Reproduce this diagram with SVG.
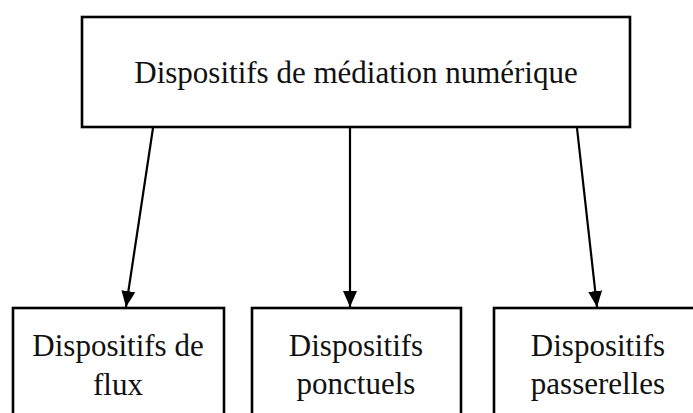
<svg xmlns="http://www.w3.org/2000/svg" width="693" height="413" viewBox="0 0 693 413">
<style>
.box{fill:#fff;stroke:#000;stroke-width:2.6}
.t{font-family:"Liberation Serif","Times New Roman",serif;font-size:31px;fill:#111;text-anchor:middle}
.c{stroke:#000;stroke-width:2.2;fill:none;marker-end:url(#ah)}
</style>
<defs>
<marker id="ah" markerUnits="userSpaceOnUse" markerWidth="16" markerHeight="14" refX="16" refY="7" orient="auto" viewBox="0 0 16 14">
<path d="M0,0 L16,7 L0,14 Z" fill="#000"/>
</marker>
</defs>
<rect width="693" height="413" fill="#fff"/>
<g id="root">
<rect class="box" x="82" y="17" width="548" height="110"/>
<text class="t" x="356" y="83">Dispositifs de médiation numérique</text>
</g>
<g id="flux">
<rect class="box" x="13" y="308" width="211" height="120"/>
<text class="t" x="118" y="356">Dispositifs de</text>
<text class="t" x="118" y="395">flux</text>
</g>
<g id="ponctuels">
<rect class="box" x="252" y="308" width="209" height="120"/>
<text class="t" x="356" y="356">Dispositifs</text>
<text class="t" x="356" y="394">ponctuels</text>
</g>
<g id="passerelles">
<rect class="box" x="494" y="308" width="210" height="120"/>
<text class="t" x="598" y="356">Dispositifs</text>
<text class="t" x="598" y="394">passerelles</text>
</g>
<g id="connectors">
<line class="c" x1="153" y1="128" x2="126" y2="307"/>
<line class="c" x1="350" y1="128" x2="350" y2="307"/>
<line class="c" x1="577" y1="128" x2="597" y2="307"/>
</g>
</svg>
